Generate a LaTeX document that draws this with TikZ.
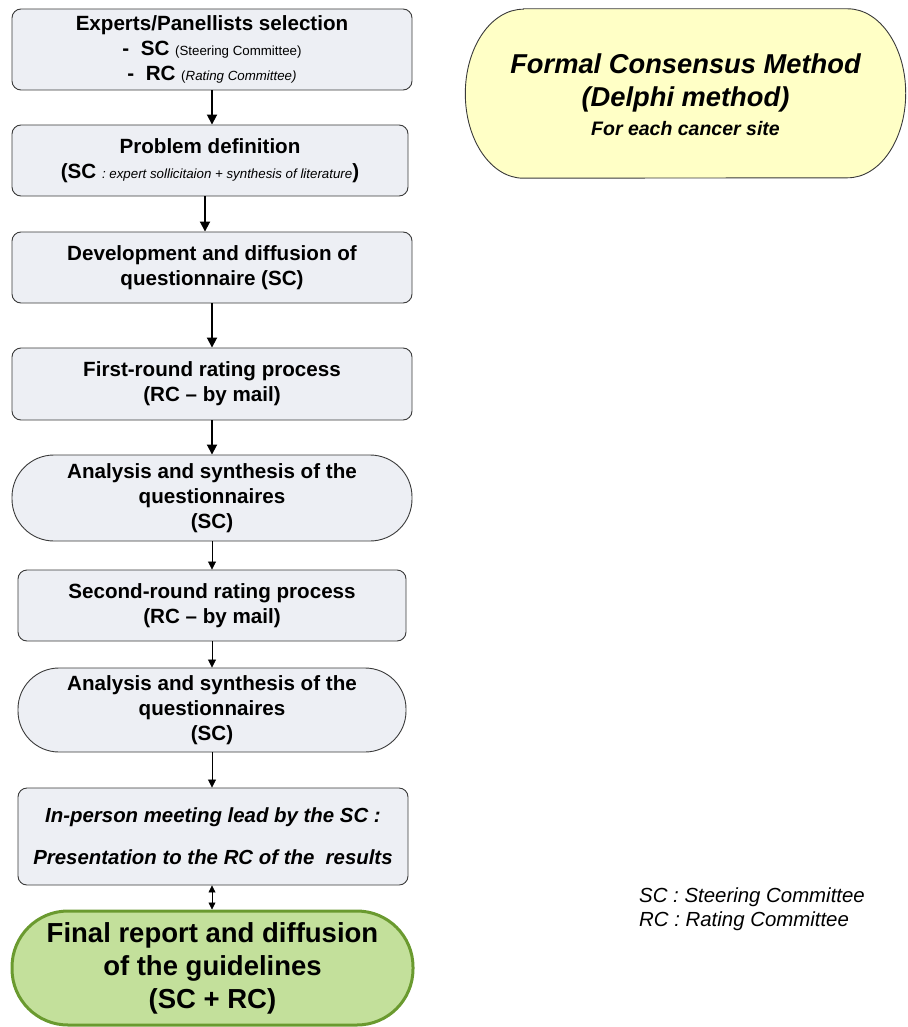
\documentclass[tikz,border=0pt]{standalone}
\usepackage{fontspec}
\setmainfont{Liberation Sans}
\usetikzlibrary{arrows.meta,calc,backgrounds}
\definecolor{boxfill}{HTML}{EDEFF4}
\definecolor{boxline}{HTML}{3A3A3A}
\definecolor{yelfill}{HTML}{FFFFC6}
\definecolor{grnfill}{HTML}{C3E09B}
\definecolor{grnline}{HTML}{6A9A2F}
\begin{document}
\begin{tikzpicture}[x=1pt,y=1pt,
  box/.style={draw=boxline, fill=boxfill, line width=0.9pt, rounded corners=9pt,
    align=center, inner sep=0pt, font=\fontsize{20.6}{25}\selectfont\bfseries},
  thickarrow/.style={line width=1.8pt, -{Triangle[length=10pt,width=10pt]}},
  thinarrow/.style={line width=0.8pt, -{Triangle[length=8pt,width=8pt]}}]
\useasboundingbox (0,0) rectangle (907,-1027);

\node[box, minimum width=400, minimum height=81] (b1) at (212,-49.5)
  {Experts/Panellists selection\\
   -\ \ SC {\mdseries\fontsize{13.3}{15}\selectfont (Steering Committee)}\\
   -\ \ RC {\mdseries\fontsize{13.3}{15}\selectfont (\textit{Rating Committee)}}};

\node[box, minimum width=396, minimum height=71] (b2) at (210,-160.5)
  {Problem definition\\
   (SC {\mdseries\itshape\fontsize{13.3}{15}\selectfont : expert sollicitaion + synthesis of literature})};

\node[box, minimum width=400, minimum height=71] (b3) at (212,-267.5)
  {Development and diffusion of\\ questionnaire (SC)};

\node[box, minimum width=400, minimum height=72] (b4) at (212,-384)
  {First-round rating process\\ (RC -- by mail)};

\node[box, rounded corners=42pt, minimum width=400, minimum height=86] (b5) at (212,-498)
  {Analysis and synthesis of the\\ questionnaires\\ (SC)};

\node[box, minimum width=388, minimum height=71] (b6) at (212,-605.5)
  {Second-round rating process\\ (RC -- by mail)};

\node[box, rounded corners=41pt, minimum width=388, minimum height=84] (b7) at (212,-710)
  {Analysis and synthesis of the\\ questionnaires\\ (SC)};

\node[box, minimum width=390, minimum height=97, font=\fontsize{20.4}{42}\selectfont\bfseries\itshape] (b8) at (213,-836.5)
  {In-person meeting lead by the SC :\\ Presentation to the RC of the\ \ results};

\node[box, draw=grnline, fill=grnfill, line width=3pt, rounded corners=56pt,
  minimum width=401, minimum height=114, font=\fontsize{27.5}{33}\selectfont\bfseries] (b9) at (212.5,-968)
  {Final report and diffusion\\ of the guidelines\\ (SC + RC)};

% yellow title shape
\node[align=center, inner sep=0pt, minimum width=440, minimum height=169,
  font=\fontsize{27.3}{33}\selectfont\bfseries\itshape] (fcm) at (685.5,-94.5)
  {Formal Consensus Method\\ (Delphi method)\\[-4pt]
   {\fontsize{19.5}{29}\selectfont For each cancer site}};
\begin{scope}[on background layer]
\path[draw=boxline, fill=yelfill, line width=0.9pt]
  ($(fcm.north west)+(58,1)$) -- ($(fcm.north east)+(-58,1)$)
  arc[start angle=90, end angle=-90, x radius=58, y radius=84.5]
  -- ($(fcm.south west)+(58,1)$)
  arc[start angle=270, end angle=90, x radius=58, y radius=84.5] -- cycle;
\end{scope}

\node[anchor=west, align=left, inner sep=0pt, font=\fontsize{20.4}{24}\selectfont\itshape] (legend) at (639,-909)
  {SC : Steering Committee\\ RC : Rating Committee};

% connectors
\draw[thickarrow] (b1.south) -- (b1.south |- b2.north);
\draw[thickarrow] ([xshift=-5pt]b2.south) -- ([xshift=-5pt]b2.south |- b3.north);
\draw[thickarrow] (b3.south) -- (b3.south |- b4.north);
\draw[thickarrow] (b4.south) -- (b4.south |- b5.north);
\draw[thinarrow] (b5.south) -- (b5.south |- b6.north);
\draw[thinarrow] (b6.south) -- (b6.south |- b7.north);
\draw[thinarrow] (b7.south) -- (b7.south |- b8.north);
\draw[line width=0.8pt, {Triangle[length=7pt,width=7pt]}-{Triangle[length=7pt,width=7pt]}] ([xshift=-1pt]b8.south) -- ([xshift=-1pt]b8.south |- b9.north);
\end{tikzpicture}
\end{document}
